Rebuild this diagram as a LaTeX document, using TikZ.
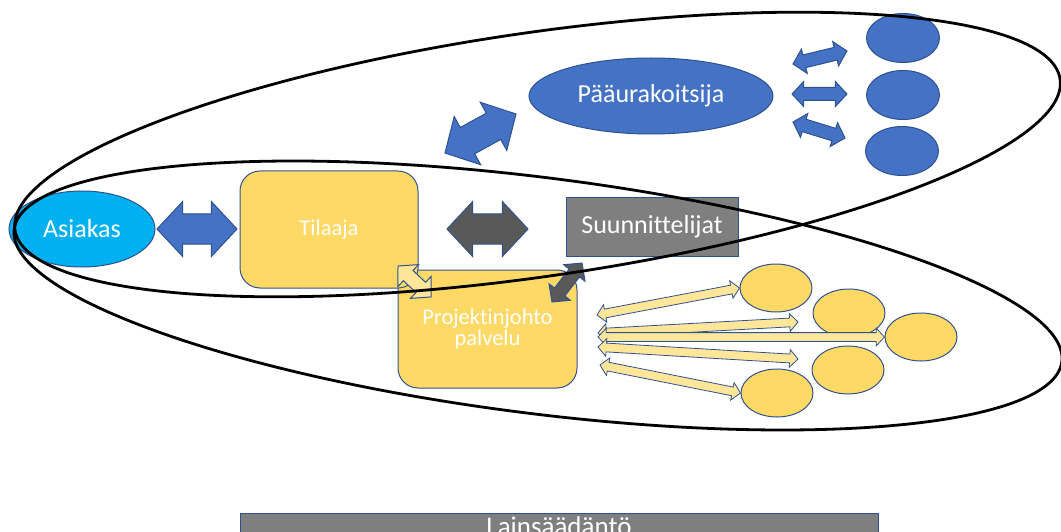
\documentclass[tikz,border=0pt]{standalone}
\usepackage{fontspec}
\setmainfont{Carlito}[Ligatures=CommonOff]
\usetikzlibrary{calc,shapes.arrows,shapes.geometric}
\definecolor{ppblue}{HTML}{4472C4}
\definecolor{ppedge}{HTML}{2F528F}
\definecolor{ppcyan}{HTML}{00B0F0}
\definecolor{ppgold}{HTML}{FFD966}
\definecolor{pplight}{HTML}{FFE699}
\definecolor{ppgray}{HTML}{7F7F7F}
\definecolor{ppdark}{HTML}{595959}
\newcommand{\bigtext}{\fontsize{26}{30}\selectfont}
\newcommand{\boxtext}{\fontsize{22.5}{21}\selectfont}
\tikzset{
	party/.style={draw=ppedge, line width=1pt, text=white, inner sep=0pt},
	box/.style={party, fill=ppgold, rounded corners=20pt, font=\boxtext, align=center},
	oval/.style={party, ellipse, fill=ppblue, font=\bigtext},
	wide arrow/.style={double arrow, draw=ppedge, line width=1pt, inner xsep=0pt, inner ysep=14.5pt,
		double arrow tip angle=94, minimum width=54pt, double arrow head extend=12.5pt},
	small arrow/.style={wide arrow, fill=ppblue, inner ysep=6pt, minimum width=24pt, double arrow head extend=6pt},
	thin arrow/.style={wide arrow, fill=pplight, line width=0.8pt, inner ysep=4pt, minimum width=17pt, double arrow head extend=4.5pt},
	ring/.style={draw=black, line width=2.8pt},
}
% block arrow between two named points: style, from, to, name
\newcommand{\blockarrow}[4]{%
	\path let \p1=($(#3)-(#2)$), \n1={veclen(\x1,\y1)} in
		(#2) -- node[#1, sloped, minimum height=\n1] (#4) {} (#3);}

\begin{document}
\begin{tikzpicture}[x=1pt, y=-1pt]
\useasboundingbox (0,0) rectangle (1061,532);

% parties
\node[box, minimum width=179, minimum height=118] (projekti) at (487.5,329) {Projektinjohto\\palvelu};
\node[box, minimum width=178, minimum height=117] (tilaaja) at (329,229.5) {Tilaaja};
\node[oval, fill=ppcyan, minimum width=146, minimum height=76] (asiakas) at (82,229) {Asiakas};
\node[party, fill=ppgray, minimum width=172, minimum height=58, font=\bigtext] (suunnittelijat) at (652,227) {Suunnittelijat};
\node[oval, minimum width=244, minimum height=76] (paaurakoitsija) at (651,96) {Pääurakoitsija};

% subcontractors
\node[oval, minimum width=73, minimum height=49] (ali1) at (903,38) {};
\node[oval, minimum width=73, minimum height=49] (ali2) at (903,95) {};
\node[oval, minimum width=73, minimum height=49] (ali3) at (902,151) {};
\node[oval, fill=ppgold, minimum width=72, minimum height=48] (urak1) at (776,288) {};
\node[oval, fill=ppgold, minimum width=72, minimum height=48] (urak2) at (849,313) {};
\node[oval, fill=ppgold, minimum width=72, minimum height=48] (urak3) at (921,337) {};
\node[oval, fill=ppgold, minimum width=72, minimum height=48] (urak4) at (848,370) {};
\node[oval, fill=ppgold, minimum width=72, minimum height=48] (urak5) at (777,393) {};

% arrow ends
\coordinate (ac1) at (157,229);  \coordinate (ac2) at (237,229);
\coordinate (ts1) at (447,229);  \coordinate (ts2) at (528,229);
\coordinate (tp1) at (445,153);  \coordinate (tp2) at (516,114);
\coordinate (pa1) at (793,64);   \coordinate (pa2) at (847,51);
\coordinate (pb1) at (792,94);   \coordinate (pb2) at (847,94);
\coordinate (pc1) at (793,122);  \coordinate (pc2) at (845,138);
\coordinate (ps1) at (552,302);  \coordinate (ps2) at (582,263);
\coordinate (tj1) at (398,266);  \coordinate (tj2) at (431,297);
\coordinate (y1) at (597,315);   \coordinate (y2) at (598,333);
\coordinate (y3) at (598,337);   \coordinate (y4) at (598,347);
\coordinate (y5) at (600,365);
\coordinate (u2) at (798,322);   \coordinate (u4) at (798,359);

% arrows
\blockarrow{wide arrow, fill=ppblue}{ac1}{ac2}{a-asiakas}
\blockarrow{wide arrow, fill=ppdark}{ts1}{ts2}{a-suunn}
\blockarrow{wide arrow, fill=ppblue}{tp1}{tp2}{a-paaur}
\blockarrow{small arrow}{pa1}{pa2}{a-ali1}
\blockarrow{small arrow}{pb1}{pb2}{a-ali2}
\blockarrow{small arrow}{pc1}{pc2}{a-ali3}
\blockarrow{wide arrow, fill=ppdark, inner ysep=6pt, minimum width=26pt, double arrow head extend=7pt}{ps1}{ps2}{a-pjs}
\blockarrow{wide arrow, fill=pplight, inner ysep=6.5pt, minimum width=29pt, double arrow head extend=8pt}{tj1}{tj2}{a-tpj}
\blockarrow{thin arrow}{y1}{urak1.west}{a-urak1}
\blockarrow{thin arrow}{y2}{u2}{a-urak2}
\blockarrow{thin arrow}{y3}{urak3.west}{a-urak3}
\blockarrow{thin arrow}{y4}{u4}{a-urak4}
\blockarrow{thin arrow}{y5}{urak5.west}{a-urak5}

% groups
\draw[ring, rotate around={8.2:(537.5,154.5)}] (537.5,154.5) ellipse [x radius=528pt, y radius=122pt];
\draw[ring, rotate around={-7.2:(538,295.5)}] (538,295.5) ellipse [x radius=528pt, y radius=118pt];

% legislation
\node[party, fill=ppgray, minimum width=638, minimum height=27, font=\fontsize{27}{30}\selectfont] (laki) at (559,526.5) {Lainsäädäntö};
\end{tikzpicture}
\end{document}
